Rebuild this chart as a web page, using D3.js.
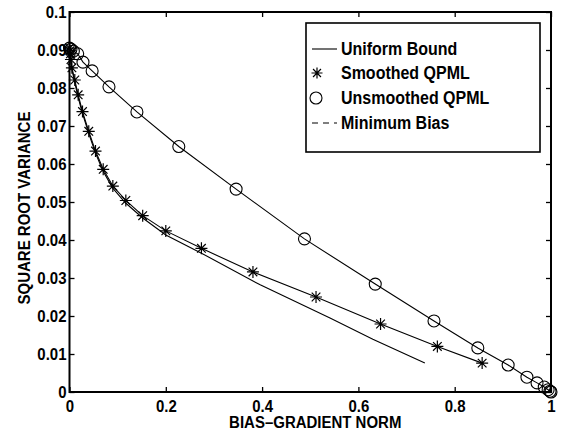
<!DOCTYPE html>
<html><head><meta charset="utf-8">
<script src="https://cdn.jsdelivr.net/npm/d3@7"></script>
<style>body{margin:0;background:#fff;} svg{display:block;}</style>
</head><body>
<svg id="c" width="565" height="435"></svg>
<script>
// ---- data ----
const uniformX = [0,0.004,0.010,0.017,0.026,0.039,0.053,0.069,0.089,0.116,0.152,0.200,0.273,0.396,0.541,0.630,0.738];
const uniformY = [0.0905,0.0855,0.0820,0.0780,0.0737,0.0684,0.0632,0.0583,0.0538,0.0498,0.0458,0.0413,0.0366,0.0282,0.0195,0.0139,0.0076];
const smoothX = [0,0.001,0.002,0.003,0.005,0.011,0.018,0.027,0.040,0.054,0.070,0.090,0.117,0.152,0.200,0.274,0.381,0.512,0.646,0.764,0.857];
const smoothY = [0.0905,0.0898,0.0890,0.0875,0.0853,0.0821,0.0782,0.0738,0.0686,0.0634,0.0586,0.0542,0.0504,0.0464,0.0424,0.0378,0.0316,0.0250,0.0179,0.0120,0.0076];
const unsmX = [0,0.003,0.008,0.017,0.028,0.047,0.082,0.140,0.227,0.346,0.488,0.635,0.757,0.848,0.911,0.950,0.971,0.986,0.994,0.998,1.0];
const unsmY = [0.0905,0.0902,0.0897,0.0890,0.0868,0.0845,0.0803,0.0737,0.0646,0.0534,0.0403,0.0284,0.0187,0.0116,0.0071,0.0039,0.0024,0.0013,0.0006,0.0002,0.0];
const xTicks = [0,0.2,0.4,0.6,0.8,1];
const xTickLabels = ["0","0.2","0.4","0.6","0.8","1"];
const yTicks = [0,0.01,0.02,0.03,0.04,0.05,0.06,0.07,0.08,0.09,0.1];
const yTickLabels = ["0","0.01","0.02","0.03","0.04","0.05","0.06","0.07","0.08","0.09","0.1"];
const legendLabels = ["Uniform Bound","Smoothed QPML","Unsmoothed QPML","Minimum Bias"];

const svg = d3.select("#c");
const L=69.5, R=551, T=12, B=392;
const x = d3.scaleLinear().domain([0,1]).range([L,R]);
const y = d3.scaleLinear().domain([0,0.1]).range([B,T]);
const font = "'Liberation Sans', Arial, Helvetica, sans-serif";
const SY = 1.12;

function styleAxis(g, showLabels){
  g.select(".domain").remove();
  g.selectAll(".tick line").attr("stroke","#000").attr("stroke-width",1.3);
  g.selectAll(".tick text").attr("fill","#000").style("font-family",font)
   .style("font-size","15px").style("font-weight","bold").attr("transform",`scale(1,${SY})`);
  if(!showLabels) g.selectAll(".tick text").remove();
}
const xi = (d)=>xTickLabels[xTicks.indexOf(d)];
const yi = (d)=>yTickLabels[yTicks.indexOf(d)];

svg.append("g").attr("transform",`translate(0,${B})`)
  .call(d3.axisBottom(x).tickValues(xTicks).tickFormat(xi).tickSizeInner(-5).tickSizeOuter(0).tickPadding(7))
  .call(g=>styleAxis(g,true));
svg.append("g").attr("transform",`translate(0,${T})`)
  .call(d3.axisTop(x).tickValues(xTicks).tickSizeInner(-5).tickSizeOuter(0))
  .call(g=>styleAxis(g,false));
svg.append("g").attr("transform",`translate(${L},0)`)
  .call(d3.axisLeft(y).tickValues(yTicks).tickFormat(yi).tickSizeInner(-5).tickSizeOuter(0).tickPadding(3))
  .call(g=>styleAxis(g,true));
svg.append("g").attr("transform",`translate(${R},0)`)
  .call(d3.axisRight(y).tickValues(yTicks).tickSizeInner(-5).tickSizeOuter(0))
  .call(g=>styleAxis(g,false));

svg.append("rect").attr("x",L).attr("y",T).attr("width",R-L).attr("height",B-T)
  .attr("fill","none").attr("stroke","#000").attr("stroke-width",2);

const line = d3.line().x(d=>x(d[0])).y(d=>y(d[1]));
const zip = (a,b)=>a.map((v,i)=>[v,b[i]]);
const uni = zip(uniformX,uniformY), sm = zip(smoothX,smoothY), un = zip(unsmX,unsmY);

[uni,sm,un].forEach(d=>svg.append("path").datum(d).attr("d",line)
  .attr("fill","none").attr("stroke","#000").attr("stroke-width",1.1));

function star(g,cx,cy,r){
  const p = `M${cx-r},${cy}H${cx+r}M${cx},${cy-r}V${cy+r}`+
    `M${cx-r*0.72},${cy-r*0.72}L${cx+r*0.72},${cy+r*0.72}M${cx-r*0.72},${cy+r*0.72}L${cx+r*0.72},${cy-r*0.72}`;
  g.append("path").attr("d",p).attr("stroke","#000").attr("stroke-width",1.2).attr("fill","none");
}
const gs = svg.append("g");
sm.forEach(d=>star(gs,x(d[0]),y(d[1]),6));
svg.append("g").selectAll("circle").data(un).join("circle")
  .attr("cx",d=>x(d[0])).attr("cy",d=>y(d[1])).attr("r",6)
  .attr("fill","none").attr("stroke","#000").attr("stroke-width",1.1);

// axis titles
svg.append("text").attr("transform",`translate(${(L+R)/2+5},428) scale(1,${SY})`).attr("text-anchor","middle")
  .style("font-family",font).style("font-size","15px").style("font-weight","bold").text("BIAS–GRADIENT NORM");
svg.append("text").attr("transform",`translate(30,${(T+B)/2+6}) rotate(-90) scale(1,${SY})`).attr("text-anchor","middle")
  .style("font-family",font).style("font-size","15px").style("font-weight","bold").text("SQUARE ROOT VARIANCE");

// legend
const lg = svg.append("g");
lg.append("rect").attr("x",306).attr("y",23).attr("width",234).attr("height",129)
  .attr("fill","#fff").attr("stroke","#000").attr("stroke-width",1.6);
const ly = [49,73,98,123];
legendLabels.forEach((t,i)=>{
  lg.append("text").attr("transform",`translate(341,${ly[i]+6}) scale(1,${SY})`).style("font-family",font)
    .style("font-size","16px").style("font-weight","bold").text(t);
});
lg.append("line").attr("x1",312).attr("x2",337).attr("y1",ly[0]).attr("y2",ly[0]).attr("stroke","#000").attr("stroke-width",1.1);
star(lg,317,ly[1],5.5);
lg.append("circle").attr("cx",316).attr("cy",ly[2]).attr("r",6).attr("fill","none").attr("stroke","#000").attr("stroke-width",1.1);
lg.append("line").attr("x1",312).attr("x2",337).attr("y1",ly[3]).attr("y2",ly[3]).attr("stroke","#000").attr("stroke-width",1.1).attr("stroke-dasharray","6,5");
</script>
</body></html>
